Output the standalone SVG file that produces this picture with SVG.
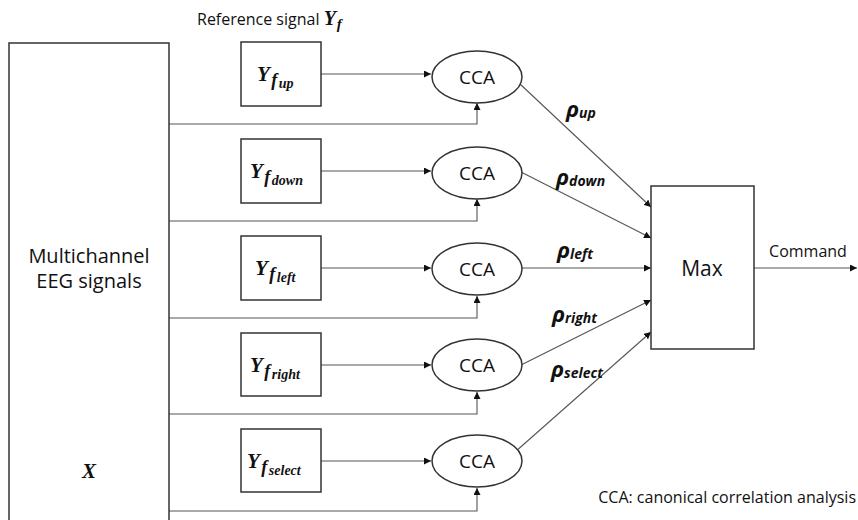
<svg xmlns="http://www.w3.org/2000/svg" width="858" height="520" viewBox="0 0 858 520">
<defs>
<marker id="arr" viewBox="0 0 10 10" refX="10" refY="5" markerWidth="7" markerHeight="7" markerUnits="userSpaceOnUse" orient="auto"><path d="M0,0 L10,5 L0,10 Z" fill="#111"/></marker>
<style>
.box{fill:#fff;stroke:#333;stroke-width:1.5}
.ln{fill:none;stroke:#555;stroke-width:1.1}
.sans{font-family:"Open Sans","Noto Sans","DejaVu Sans",sans-serif;fill:#111}
.math{font-family:"Liberation Serif","DejaVu Serif",serif;font-weight:bold;font-style:italic;fill:#111}
.rho{font-family:"Open Sans","Noto Sans",sans-serif;font-weight:bold;font-style:italic;fill:#111}
</style>
</defs>
<rect width="858" height="520" fill="#fff"/>
<g id="connectors">
<path class="ln" d="M321,74 H431" marker-end="url(#arr)"/>
<path class="ln" d="M321,171 H431" marker-end="url(#arr)"/>
<path class="ln" d="M321,268 H431" marker-end="url(#arr)"/>
<path class="ln" d="M321,365 H431" marker-end="url(#arr)"/>
<path class="ln" d="M321,461 H431" marker-end="url(#arr)"/>
<path class="ln" d="M169,124 H477 V103" marker-end="url(#arr)"/>
<path class="ln" d="M169,221 H477 V199" marker-end="url(#arr)"/>
<path class="ln" d="M169,318 H477 V296" marker-end="url(#arr)"/>
<path class="ln" d="M169,414 H477 V392" marker-end="url(#arr)"/>
<path class="ln" d="M169,511 H477 V488" marker-end="url(#arr)"/>
<path class="ln" d="M520,84 L651,207" marker-end="url(#arr)"/>
<path class="ln" d="M521,172 L651,238" marker-end="url(#arr)"/>
<path class="ln" d="M522,268 H651" marker-end="url(#arr)"/>
<path class="ln" d="M521,365 L651,300" marker-end="url(#arr)"/>
<path class="ln" d="M515,452 L651,332" marker-end="url(#arr)"/>
<path class="ln" d="M754,268 H857" marker-end="url(#arr)"/>
</g>
<g id="eeg">
<rect class="box" x="9" y="43" width="160" height="490"/>
<text class="sans" x="89" y="263" font-size="20" text-anchor="middle">Multichannel</text>
<text class="sans" x="89" y="288" font-size="20" text-anchor="middle">EEG signals</text>
<text class="math" x="89" y="478" font-size="21" text-anchor="middle">X</text>
</g>
<g id="ref-title">
<text class="sans" x="197" y="25" font-size="16">Reference signal <tspan class="math" font-size="20">Y</tspan><tspan class="math" font-size="15" dx="1" dy="4">f</tspan></text>
</g>
<g id="y-up">
<rect class="box" x="241" y="42" width="80" height="64"/>
<text class="math" x="257" y="81" font-size="21">Y<tspan font-size="18" dx="1.5" dy="5">f</tspan><tspan font-size="14" dx="1.5" dy="2">up</tspan></text>
</g>
<g id="y-down">
<rect class="box" x="241" y="139" width="80" height="64"/>
<text class="math" x="250" y="178" font-size="21">Y<tspan font-size="18" dx="1.5" dy="5">f</tspan><tspan font-size="14" dx="1.5" dy="2">down</tspan></text>
</g>
<g id="y-left">
<rect class="box" x="241" y="236" width="80" height="64"/>
<text class="math" x="255" y="275" font-size="21">Y<tspan font-size="18" dx="1.5" dy="5">f</tspan><tspan font-size="14" dx="1.5" dy="2">left</tspan></text>
</g>
<g id="y-right">
<rect class="box" x="241" y="333" width="80" height="63"/>
<text class="math" x="250" y="372" font-size="21">Y<tspan font-size="18" dx="1.5" dy="5">f</tspan><tspan font-size="14" dx="1.5" dy="2">right</tspan></text>
</g>
<g id="y-select">
<rect class="box" x="241" y="429" width="80" height="63"/>
<text class="math" x="247" y="468" font-size="21">Y<tspan font-size="18" dx="1.5" dy="5">f</tspan><tspan font-size="14" dx="1.5" dy="2">select</tspan></text>
</g>
<g id="cca-up"><ellipse class="box" cx="477" cy="77" rx="45" ry="26"/><text class="sans" x="477" y="84" font-size="19" text-anchor="middle">CCA</text></g>
<g id="cca-down"><ellipse class="box" cx="477" cy="173" rx="45" ry="26"/><text class="sans" x="477" y="180" font-size="19" text-anchor="middle">CCA</text></g>
<g id="cca-left"><ellipse class="box" cx="477" cy="269" rx="45" ry="26"/><text class="sans" x="477" y="276" font-size="19" text-anchor="middle">CCA</text></g>
<g id="cca-right"><ellipse class="box" cx="477" cy="365" rx="45" ry="26"/><text class="sans" x="477" y="372" font-size="19" text-anchor="middle">CCA</text></g>
<g id="cca-select"><ellipse class="box" cx="477" cy="461" rx="45" ry="26"/><text class="sans" x="477" y="468" font-size="19" text-anchor="middle">CCA</text></g>
<g id="rho-labels">
<text class="rho" x="566" y="117" font-size="22">ρ<tspan font-size="14" dy="1">up</tspan></text>
<text class="rho" x="556" y="185" font-size="22">ρ<tspan font-size="14" dy="1">down</tspan></text>
<text class="rho" x="557" y="258" font-size="22">ρ<tspan font-size="14" dy="1">left</tspan></text>
<text class="rho" x="552" y="322" font-size="22">ρ<tspan font-size="14" dy="1">right</tspan></text>
<text class="rho" x="551" y="377" font-size="22">ρ<tspan font-size="14" dy="1">select</tspan></text>
</g>
<g id="max">
<rect class="box" x="651" y="186" width="103" height="163"/>
<text class="sans" x="702" y="276" font-size="21" text-anchor="middle">Max</text>
</g>
<text class="sans" x="808" y="257" font-size="16" text-anchor="middle">Command</text>
<text class="sans" x="856" y="503" font-size="16" text-anchor="end">CCA: canonical correlation analysis</text>
</svg>
